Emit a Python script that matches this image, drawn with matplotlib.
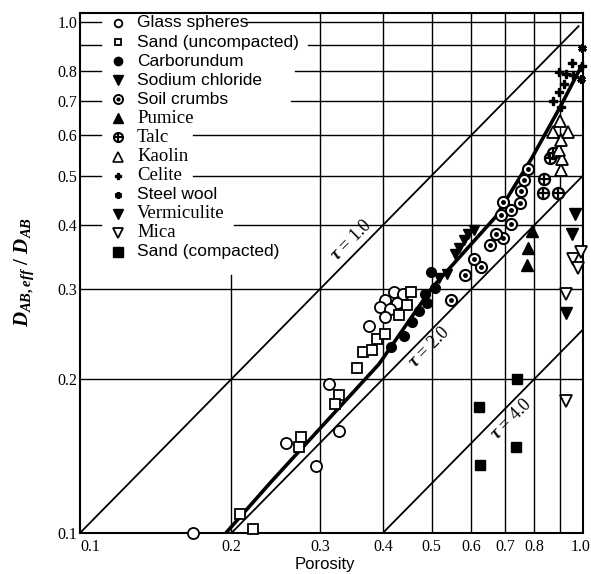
import matplotlib
matplotlib.use('Agg')
import matplotlib.pyplot as plt
from matplotlib.ticker import NullFormatter, NullLocator

plt.rcParams['mathtext.fontset'] = 'custom'
plt.rcParams['mathtext.it'] = 'Liberation Serif:italic:bold'
plt.rcParams['mathtext.rm'] = 'Liberation Serif:bold'

# ---- readings: porosity (x) vs D_AB,eff / D_AB (y) ----
glass_x = [0.168, 0.257, 0.295, 0.312, 0.328, 0.375, 0.421, 0.439, 0.404, 0.427, 0.394, 0.413, 0.404]
glass_y = [0.100, 0.150, 0.135, 0.196, 0.158, 0.254, 0.296, 0.293, 0.286, 0.282, 0.277, 0.274, 0.265]

sand_u_x = [0.208, 0.221, 0.275, 0.272, 0.328, 0.322, 0.355, 0.366, 0.380, 0.389, 0.404, 0.431, 0.447, 0.455]
sand_u_y = [0.109, 0.102, 0.154, 0.147, 0.186, 0.179, 0.210, 0.226, 0.228, 0.240, 0.245, 0.267, 0.279, 0.296]

carb_x = [0.415, 0.441, 0.457, 0.472, 0.490, 0.485, 0.508, 0.499]
carb_y = [0.231, 0.243, 0.259, 0.272, 0.282, 0.294, 0.301, 0.324]

nacl_x = [0.518, 0.537, 0.557, 0.568, 0.581, 0.592, 0.608]
nacl_y = [0.316, 0.321, 0.352, 0.361, 0.375, 0.384, 0.391]

soil_x = [0.547, 0.583, 0.628, 0.608, 0.652, 0.692, 0.670, 0.718, 0.686, 0.718, 0.692, 0.748, 0.752, 0.762, 0.776]
soil_y = [0.285, 0.319, 0.332, 0.343, 0.366, 0.377, 0.384, 0.402, 0.419, 0.428, 0.444, 0.442, 0.467, 0.491, 0.514]

pumice_x = [0.775, 0.778, 0.790]
pumice_y = [0.335, 0.361, 0.389]

talc_x = [0.833, 0.890, 0.837, 0.859, 0.871]
talc_y = [0.462, 0.462, 0.493, 0.541, 0.553]

kaolin_x = [0.904, 0.907, 0.897, 0.904, 0.871, 0.932, 0.900]
kaolin_y = [0.512, 0.538, 0.561, 0.586, 0.608, 0.608, 0.640]

celite_x = [0.904, 0.871, 0.896, 0.915, 0.895, 0.925, 0.956, 0.953, 0.995]
celite_y = [0.680, 0.701, 0.729, 0.757, 0.796, 0.790, 0.786, 0.830, 0.820]

steel_x = [0.995, 0.990]
steel_y = [0.890, 0.771]

verm_x = [0.926, 0.950, 0.966]
verm_y = [0.269, 0.384, 0.421]

mica_x = [0.926, 0.926, 0.956, 0.976, 0.990]
mica_y = [0.181, 0.293, 0.344, 0.330, 0.354]

sand_c_x = [0.623, 0.621, 0.736, 0.739]
sand_c_y = [0.136, 0.176, 0.147, 0.200]

# heavy curve drawn through the data
curve_x = [0.195, 0.240, 0.393, 0.500, 0.670, 0.790, 0.900, 1.000]
curve_y = [0.100, 0.126, 0.214, 0.301, 0.415, 0.540, 0.680, 0.830]

# tortuosity lines (end points)
tau1_x = [0.10, 0.98]
tau1_y = [0.10, 0.98]
tau2_x = [0.20, 1.00]
tau2_y = [0.10, 0.50]
tau4_x = [0.40, 1.00]
tau4_y = [0.10, 0.25]

tick_vals = [0.1, 0.2, 0.3, 0.4, 0.5, 0.6, 0.7, 0.8, 1.0]
tick_labels = ['0.1', '0.2', '0.3', '0.4', '0.5', '0.6', '0.7', '0.8', '1.0']

legend_names = ['Glass spheres', 'Sand (uncompacted)', 'Carborundum', 'Sodium chloride',
                'Soil crumbs', 'Pumice', 'Talc', 'Kaolin', 'Celite', 'Steel wool',
                'Vermiculite', 'Mica', 'Sand (compacted)']

SERIF = 'Liberation Serif'
SANS = 'Liberation Sans'

fig = plt.figure(figsize=(5.91, 5.74), dpi=100)
ax = fig.add_axes([80 / 591, 41 / 574, 503 / 591, 520 / 574])
ax.set_xscale('log')
ax.set_yscale('log')
ax.set_xlim(0.1, 1.0)
ax.set_ylim(0.1, 1.04)
top = 1.04

# ---- grid, drawn by hand because the legend blanks parts of it ----
glw = 1.0
ax.plot([0.2, 0.2], [0.1, 0.32], color='k', lw=glw, zorder=1)
for gx in [0.3, 0.4, 0.5, 0.6, 0.7, 0.8, 0.9]:
    ax.plot([gx, gx], [0.1, top], color='k', lw=glw, zorder=1)
for gy in [0.2, 0.3]:
    ax.plot([0.1, 1.0], [gy, gy], color='k', lw=glw, zorder=1)
hgrid_y = [0.4, 0.5, 0.6, 0.7, 0.8, 0.9, 1.0]
hgrid_resume = [0.202, 0.168, 0.168, 0.263, 0.267, 0.284, 0.214]
for gy, xr in zip(hgrid_y, hgrid_resume):
    ax.plot([0.1, 0.11], [gy, gy], color='k', lw=glw, zorder=1)
    ax.plot([xr, 1.0], [gy, gy], color='k', lw=glw, zorder=1)

# ---- lines ----
ax.plot(tau1_x, tau1_y, color='k', lw=1.3, zorder=2)
ax.plot(tau2_x, tau2_y, color='k', lw=1.3, zorder=2)
ax.plot(tau4_x, tau4_y, color='k', lw=1.3, zorder=2)
ax.plot(curve_x, curve_y, color='k', lw=2.6, zorder=2, solid_capstyle='butt')

ax.text(0.347, 0.373, r'$\tau$ = 1.0', family=SERIF, fontsize=13, rotation=45,
        ha='center', va='center', rotation_mode='anchor')
ax.text(0.496, 0.231, r'$\tau$ = 2.0', family=SERIF, fontsize=13, rotation=45,
        ha='center', va='center', rotation_mode='anchor')
ax.text(0.720, 0.167, r'$\tau$ = 4.0', family=SERIF, fontsize=13, rotation=45,
        ha='center', va='center', rotation_mode='anchor')

# ---- data markers ----
kw = dict(ls='none', clip_on=False, zorder=4)
ax.plot(glass_x, glass_y, marker='o', ms=8, mfc='white', mec='k', mew=1.3, **kw)
ax.plot(sand_u_x, sand_u_y, marker='s', ms=6.5, mfc='white', mec='k', mew=1.3, **kw)
ax.plot(carb_x, carb_y, marker='o', ms=7, mfc='k', mec='k', **kw)
ax.plot(nacl_x, nacl_y, marker='v', ms=7.5, mfc='k', mec='k', **kw)
ax.plot(soil_x, soil_y, marker='o', ms=8, mfc='white', mec='k', mew=1.5, **kw)
ax.plot(soil_x, soil_y, marker='o', ms=2.5, mfc='k', mec='k', **kw)
ax.plot(pumice_x, pumice_y, marker='^', ms=8, mfc='k', mec='k', **kw)
ax.plot(talc_x, talc_y, marker='o', ms=8, mfc='white', mec='k', mew=1.6, **kw)
ax.plot(talc_x, talc_y, marker='+', ms=8, mec='k', mew=1.6, **kw)
ax.plot(kaolin_x, kaolin_y, marker='^', ms=8.5, mfc='white', mec='k', mew=1.3, **kw)
ax.plot(celite_x, celite_y, marker='P', ms=6, mfc='k', mec='k', **kw)
ax.plot(steel_x, steel_y, marker=(6, 2, 0), ms=6, mec='k', mew=2, **kw)
ax.plot(verm_x, verm_y, marker='v', ms=8.5, mfc='k', mec='k', **kw)
ax.plot(mica_x, mica_y, marker='v', ms=8, mfc='white', mec='k', mew=1.3, **kw)
ax.plot(sand_c_x, sand_c_y, marker='s', ms=7.5, mfc='k', mec='k', **kw)

# ---- hand-placed legend in the upper left ----
legend_fonts = [SANS, SANS, SANS, SANS, SANS, SERIF, SERIF, SERIF, SERIF, SANS, SERIF, SERIF, SANS]
legend_style = [
    [dict(marker='o', ms=5.5, mfc='white', mec='k', mew=1.3)],
    [dict(marker='s', ms=5, mfc='white', mec='k', mew=1.3)],
    [dict(marker='o', ms=6, mfc='k', mec='k')],
    [dict(marker='v', ms=6.5, mfc='k', mec='k')],
    [dict(marker='o', ms=6.5, mfc='white', mec='k', mew=1.4), dict(marker='o', ms=2, mfc='k', mec='k')],
    [dict(marker='^', ms=6.5, mfc='k', mec='k')],
    [dict(marker='o', ms=6.5, mfc='white', mec='k', mew=1.5), dict(marker='+', ms=6.5, mec='k', mew=1.5)],
    [dict(marker='^', ms=6.5, mfc='white', mec='k', mew=1.2)],
    [dict(marker='P', ms=5, mfc='k', mec='k')],
    [dict(marker=(6, 2, 0), ms=5, mec='k', mew=1.8)],
    [dict(marker='v', ms=7.5, mfc='k', mec='k')],
    [dict(marker='v', ms=6.5, mfc='white', mec='k', mew=1.3)],
    [dict(marker='s', ms=6.5, mfc='k', mec='k')],
]
for i, name in enumerate(legend_names):
    ypix = 23 + i * 19.08
    yf = (533 - ypix) / 520
    for st in legend_style[i]:
        ax.plot([38 / 503], [yf], transform=ax.transAxes, ls='none', clip_on=False, zorder=5, **st)
    fs = 12.5 if legend_fonts[i] == SANS else 13.5
    ax.text(57 / 503, yf, name, transform=ax.transAxes, family=legend_fonts[i],
            fontsize=fs, ha='left', va='center', zorder=5)

# ---- axes and labels ----
for sp in ax.spines.values():
    sp.set_linewidth(1.5)
ax.xaxis.set_minor_locator(NullLocator())
ax.yaxis.set_minor_locator(NullLocator())
ax.xaxis.set_minor_formatter(NullFormatter())
ax.yaxis.set_minor_formatter(NullFormatter())
ax.set_xticks(tick_vals)
# last x label is placed by hand so it stays inside the figure edge
ax.set_xticklabels(tick_labels[:-1] + [''], family=SERIF, fontsize=11.5)
ax.set_yticks(tick_vals)
ax.set_yticklabels(tick_labels, family=SERIF, fontsize=11.5)
ax.tick_params(axis='both', length=0)
ax.tick_params(axis='x', pad=4)
ax.tick_params(axis='y', pad=2)
ax.get_xticklabels()[0].set_ha('left')
ax.annotate(tick_labels[-1], xy=(tick_vals[-1], 0.1), xycoords='data',
            xytext=(-2, -4), textcoords='offset points', ha='center', va='top',
            family=SERIF, fontsize=11.5, annotation_clip=False)

fig.text(24 / 591, 1 - 272 / 574, r'$D_{AB,eff}\ /\ D_{AB}$', rotation=90,
         fontsize=15, ha='center', va='center')
fig.text(325 / 591, 1 - 565 / 574, 'Porosity', family=SANS, fontsize=12,
         ha='center', va='center')

fig.savefig('out.png', dpi=100)
